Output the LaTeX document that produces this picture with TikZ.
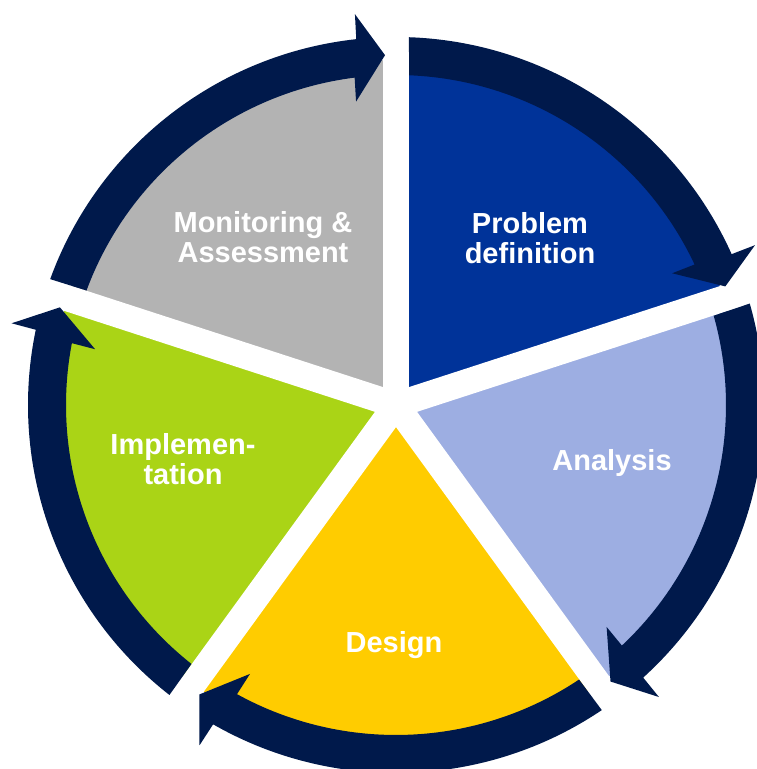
\documentclass[tikz,border=0pt]{standalone}
\usepackage{fontspec}
\setmainfont{Liberation Sans}
\definecolor{ringnavy}{RGB}{0,25,75}
\definecolor{pblue}{RGB}{0,51,153}
\definecolor{plight}{RGB}{157,174,226}
\definecolor{pyellow}{RGB}{255,204,0}
\definecolor{pgreen}{RGB}{170,212,22}
\definecolor{pgray}{RGB}{179,179,179}
\begin{document}
\begin{tikzpicture}[x=1pt, y=1pt,
  lbl/.style={text=white, font=\bfseries\fontsize{29}{30}\selectfont, align=center},
  gap/.style={white, line width=26pt}
]
\useasboundingbox (0,0) rectangle (756,769);
\begin{scope}[shift={(396,364)}]
\coordinate (c) at (0,0);
\foreach \a/\col in {90/pblue, 18/plight, -54/pyellow, -126/pgreen, 162/pgray}
  \fill[\col] (c) -- (\a:345) arc[start angle=\a, end angle=\a-72, radius=345] -- cycle;
\foreach \a in {90,18,-54,-126,162}
  \draw[gap] (c) -- (\a:400);
\foreach \a in {90,18,-54,-126,162}
  \fill[ringnavy] ({\a-2}:368) arc[start angle=\a-2, end angle=\a-65.8, radius=368]
    -- ({\a-66}:393) -- ({\a-70.2}:350) -- ({\a-64.5}:306) -- ({\a-64.8}:330)
    arc[start angle=\a-64.8, end angle=\a-2.3, radius=330] -- cycle;
\end{scope}
\node[lbl] (monitor) at (263,531.5) {Monitoring \&\\Assessment};
\node[lbl] (problem) at (530,531) {Problem\\definition};
\node[lbl] (implement) at (183,310) {Implemen-\\tation};
\node[lbl, anchor=base] (analysis) at (612,298) {Analysis};
\node[lbl, anchor=base] (design) at (394,116) {Design};
\end{tikzpicture}
\end{document}
